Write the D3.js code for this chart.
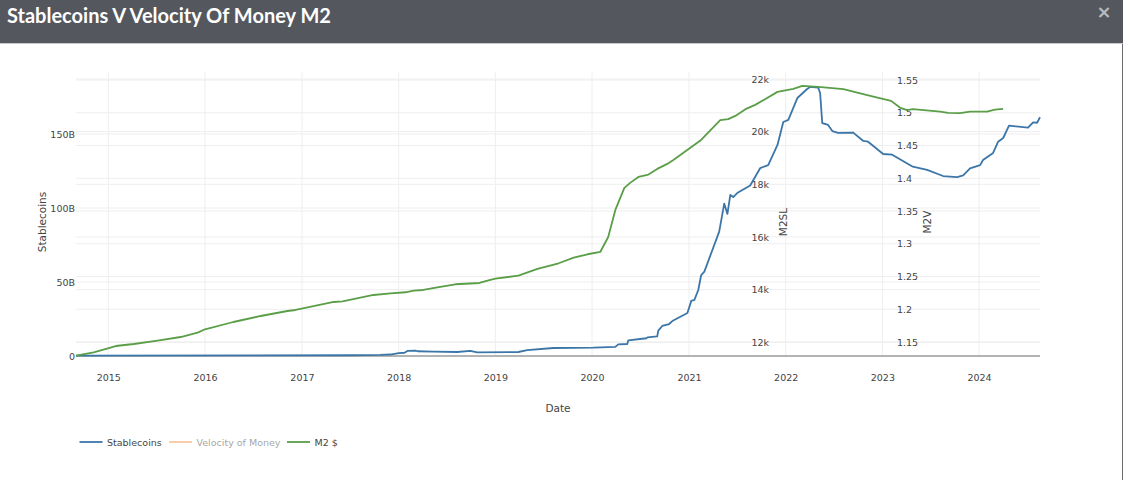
<!DOCTYPE html>
<html>
<head>
<meta charset="utf-8">
<script src="https://cdn.jsdelivr.net/npm/d3@7"></script>
<style>
  html, body { margin: 0; padding: 0; background: #fff; overflow: hidden; }
  #chart { width: 1123px; height: 480px; }
  text { font-family: "DejaVu Sans", sans-serif; }
  .axis text { font-size: 9.5px; fill: #444; }
  .axis path, .axis line { stroke: none; }
  .grid line { stroke: #eeeeee; stroke-width: 1; }
  .axis-title { font-size: 10.5px; fill: #444; }
  .legend-label { font-size: 9.5px; fill: #444; }
  .series { fill: none; stroke-width: 1.8; stroke-linejoin: round; }
</style>
</head>
<body>
<div id="chart"></div>
<script>
// Values
const yearTicks = [2015, 2016, 2017, 2018, 2019, 2020, 2021, 2022, 2023, 2024];
const stableTicks = [0, 50, 100, 150];
const m2slTicks = [12000, 14000, 16000, 18000, 20000, 22000];
const m2vTicks = [1.15, 1.2, 1.25, 1.3, 1.35, 1.4, 1.45, 1.5, 1.55];

const legendNames = ['Stablecoins', 'Velocity of Money', 'M2 $'];

// Stablecoins market cap, billions
const stableDates = ['2014-09-01','2017-07-03','2017-10-24','2017-12-01','2018-01-01','2018-01-23','2018-02-03','2018-03-06','2018-03-13','2018-05-12','2018-08-10','2018-09-28','2018-10-25','2019-03-29','2019-05-01','2019-08-08','2020-01-06','2020-03-29','2020-04-09','2020-05-13','2020-05-17','2020-07-24','2020-07-28','2020-09-03','2020-09-07','2020-09-22','2020-10-18','2020-10-30','2020-12-26','2021-01-10','2021-01-21','2021-02-05','2021-02-16','2021-02-28','2021-04-25','2021-05-14','2021-05-26','2021-06-06','2021-06-17','2021-07-02','2021-08-20','2021-09-27','2021-10-27','2021-12-01','2021-12-23','2022-01-11','2022-02-14','2022-03-23','2022-04-03','2022-05-04','2022-05-11','2022-05-19','2022-06-10','2022-06-26','2022-07-18','2022-09-13','2022-10-21','2022-11-08','2023-01-04','2023-02-07','2023-04-26','2023-06-19','2023-08-18','2023-10-10','2023-11-02','2023-11-28','2024-01-05','2024-01-16','2024-02-23','2024-03-13','2024-04-01','2024-04-23','2024-07-04','2024-07-23','2024-08-07','2024-08-18'];
const stableValues = [0.2,0.5,0.7,1.0,2.0,2.2,3.4,3.6,3.2,2.9,2.7,3.4,2.5,2.7,3.9,5.4,5.6,6.2,7.9,8.1,10.6,12,12.6,13.3,17.1,20.3,21.6,23.6,29.1,37.4,37.8,44.6,54.7,57,84,103,96,108.8,107.4,110.1,115.2,127,129,142.6,158.1,159.5,174.3,180.4,181.8,181.3,177.7,157.4,156.1,152,150.7,150.9,145.3,144.8,136.5,136,127.9,125.7,121.6,120.9,122.1,126.8,129,132.4,137.2,144.8,147.3,155.6,154.3,157.9,157.6,161.3];

// M2 money supply, billions of dollars
const m2Dates = ['2014-09-01','2014-11-07','2015-01-29','2015-04-07','2015-07-06','2015-10-01','2015-12-04','2016-01-01','2016-04-17','2016-07-29','2016-11-07','2016-12-08','2017-05-01','2017-06-03','2017-09-28','2017-12-01','2018-01-27','2018-02-26','2018-04-04','2018-05-27','2018-08-03','2018-11-02','2018-12-06','2019-01-01','2019-03-29','2019-06-09','2019-08-28','2019-10-24','2019-12-15','2020-02-01','2020-03-02','2020-03-29','2020-05-02','2020-05-25','2020-06-24','2020-08-01','2020-09-03','2020-10-11','2020-11-03','2021-02-13','2021-04-29','2021-05-29','2021-06-25','2021-08-02','2021-09-08','2021-12-01','2022-01-30','2022-03-05','2022-05-04','2022-08-07','2022-09-28','2022-11-28','2023-02-03','2023-03-08','2023-04-04','2023-04-26','2023-08-07','2023-09-06','2023-10-21','2023-11-28','2024-01-31','2024-03-01','2024-04-01'];
const m2Values = [11491,11620,11859,11935,12061,12201,12365,12494,12771,12999,13189,13227,13531,13558,13797,13862,13900,13961,13987,14090,14204,14253,14356,14417,14531,14785,15002,15215,15344,15431,16001,17027,17863,18065,18281,18369,18585,18775,18927,19661,20436,20474,20599,20854,21017,21511,21625,21739,21701,21614,21485,21333,21169,20915,20816,20854,20763,20713,20702,20763,20763,20839,20865];

const parseDate = d3.utcParse('%Y-%m-%d');
const width = 1123, height = 480;
const plot = { left: 76, right: 1040, top: 72, bottom: 356 };
const colors = { stable: '#3c76a8', velocity: '#f6c9a0', m2: '#5a9e48' };

const svg = d3.select('#chart').append('svg')
  .attr('width', width)
  .attr('height', height);

// Header bar
svg.append('rect').attr('width', width).attr('height', 43).attr('fill', '#54575e');
svg.append('rect').attr('y', 43).attr('width', width).attr('height', 1).attr('fill', '#c9cacc');
svg.append('rect').attr('x', 1122).attr('y', 44).attr('width', 1).attr('height', height - 44).attr('fill', '#6a6c70');
svg.append('text')
  .attr('x', 7).attr('y', 23)
  .style('font-family', 'Lato, sans-serif')
  .style('font-size', '20px')
  .style('font-weight', 'bold')
  .attr('fill', '#fff')
  .text('Stablecoins V Velocity Of Money M2');
svg.append('text')
  .attr('x', 1104).attr('y', 18)
  .attr('text-anchor', 'middle')
  .style('font-size', '18px')
  .style('font-weight', 'bold')
  .attr('fill', '#b9bbbe')
  .text('×');

// Scales
const x = d3.scaleUtc()
  .domain([parseDate('2014-09-01'), parseDate('2024-08-18')])
  .range([plot.left, plot.right]);
const yStable = d3.scaleLinear().domain([0, 150]).range([356, 134]);
const yM2 = d3.scaleLinear().domain([12000, 22000]).range([342.3, 79]);
const yVel = d3.scaleLinear().domain([1.15, 1.55]).range([342, 80]);

// Gridlines
const grid = svg.append('g').attr('class', 'grid');
const yearDates = yearTicks.map(y => new Date(Date.UTC(y, 0, 1)));
grid.selectAll('.vg').data(yearDates).enter().append('line')
  .attr('x1', d => x(d)).attr('x2', d => x(d))
  .attr('y1', plot.top).attr('y2', plot.bottom);
[[yStable, stableTicks.slice(1)], [yM2, m2slTicks], [yVel, m2vTicks]].forEach(([scale, ticks]) => {
  grid.selectAll(null).data(ticks).enter().append('line')
    .attr('x1', plot.left).attr('x2', plot.right)
    .attr('y1', d => scale(d)).attr('y2', d => scale(d));
});

// Axes
svg.append('g').attr('class', 'axis')
  .attr('transform', `translate(0,${plot.bottom})`)
  .call(d3.axisBottom(x).tickValues(yearDates).tickFormat(d3.utcFormat('%Y')).tickSize(0).tickPadding(18));
svg.append('g').attr('class', 'axis')
  .attr('transform', `translate(${plot.left},0)`)
  .call(d3.axisLeft(yStable).tickValues(stableTicks).tickFormat(d => d === 0 ? '0' : d + 'B').tickSize(0).tickPadding(1));
svg.append('g').attr('class', 'axis')
  .attr('transform', 'translate(769,0)')
  .call(d3.axisLeft(yM2).tickValues(m2slTicks).tickFormat(d => (d / 1000) + 'k').tickSize(0).tickPadding(0));
svg.append('g').attr('class', 'axis')
  .attr('transform', 'translate(897,0)')
  .call(d3.axisRight(yVel).tickValues(m2vTicks).tickFormat(d => String(d)).tickSize(0).tickPadding(0));

// Axis titles
svg.append('text').attr('class', 'axis-title')
  .attr('x', 558).attr('y', 412).attr('text-anchor', 'middle').text('Date');
[['Stablecoins', 46], ['M2SL', 787], ['M2V', 931]].forEach(([name, tx]) => {
  svg.append('text').attr('class', 'axis-title')
    .attr('transform', `translate(${tx},222) rotate(-90)`)
    .attr('text-anchor', 'middle')
    .text(name);
});

// Zero line
svg.append('line')
  .attr('x1', plot.left).attr('x2', plot.right)
  .attr('y1', yStable(0)).attr('y2', yStable(0))
  .attr('stroke', '#9a9a9a').attr('stroke-width', 1.5);

// Series
const stableData = stableDates.map((d, i) => ({ date: parseDate(d), value: stableValues[i] }));
const m2Data = m2Dates.map((d, i) => ({ date: parseDate(d), value: m2Values[i] }));

svg.append('path').datum(stableData)
  .attr('class', 'series')
  .attr('stroke', colors.stable)
  .attr('d', d3.line().x(d => x(d.date)).y(d => yStable(d.value)));
svg.append('path').datum(m2Data)
  .attr('class', 'series')
  .attr('stroke', colors.m2)
  .attr('d', d3.line().x(d => x(d.date)).y(d => yM2(d.value)));

// Legend, Velocity of Money is toggled off
const legendX = [79.5, 169, 287];
const legendColors = [colors.stable, colors.velocity, colors.m2];
const legend = svg.selectAll('.legend').data(legendNames).enter().append('g')
  .attr('class', 'legend')
  .attr('transform', (d, i) => `translate(${legendX[i]},442)`);
legend.append('line')
  .attr('x2', 23)
  .attr('stroke', (d, i) => legendColors[i])
  .attr('stroke-width', 1.8);
legend.append('text')
  .attr('class', 'legend-label')
  .attr('x', 27.5).attr('y', 3.5)
  .attr('fill-opacity', (d, i) => i === 1 ? 0.5 : 1)
  .text(d => d);
</script>
</body>
</html>
